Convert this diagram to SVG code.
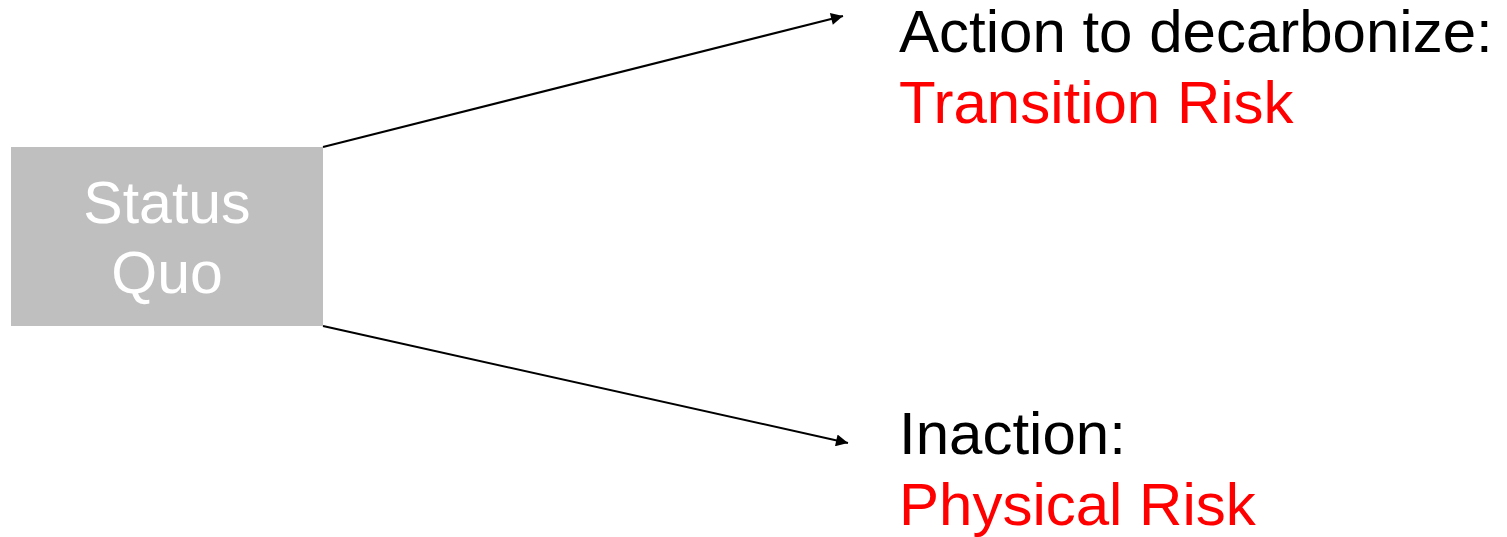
<svg xmlns="http://www.w3.org/2000/svg" width="1507" height="537" viewBox="0 0 1507 537">
<style>
text{font-family:"Liberation Sans",Arial,sans-serif;font-size:60px}
.s{font-size:59px}
.w{fill:#ffffff}
.k{fill:#000000}
.r{fill:#ff0000}
.c{stroke:#000;stroke-width:2;fill:none}
</style>
<defs>
<marker id="ah" viewBox="0 0 10 10" refX="10" refY="5" markerWidth="7.5" markerHeight="6" markerUnits="strokeWidth" orient="auto">
<path d="M0,0 L10,5 L0,10 z" fill="#000"/>
</marker>
</defs>
<rect width="1507" height="537" fill="#fff"/>
<g id="status-quo">
<rect x="11" y="147" width="312" height="179" fill="#bfbfbf"/>
<text class="w s" x="167" y="223" text-anchor="middle">Status</text>
<text class="w s" x="167" y="293" text-anchor="middle">Quo</text>
</g>
<g id="transition">
<text class="k" x="899" y="52">Action to decarbonize:</text>
<text class="r" x="899" y="123">Transition Risk</text>
</g>
<g id="physical">
<text class="k" x="899" y="454">Inaction:</text>
<text class="r" x="899" y="525">Physical Risk</text>
</g>
<g id="connectors">
<line class="c" x1="323" y1="147" x2="843" y2="16" marker-end="url(#ah)"/>
<line class="c" x1="323" y1="326" x2="848" y2="443" marker-end="url(#ah)"/>
</g>
</svg>
